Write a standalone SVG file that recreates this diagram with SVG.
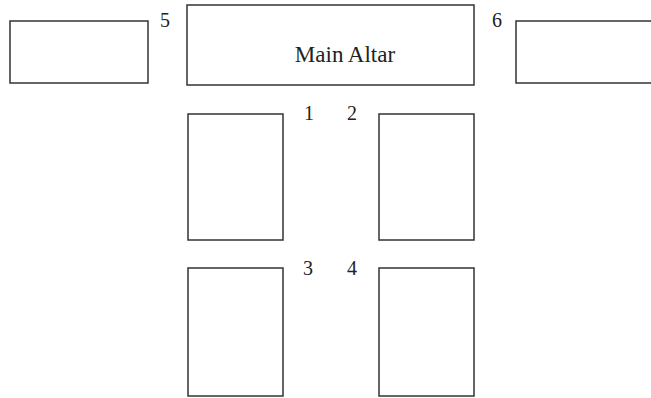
<svg xmlns="http://www.w3.org/2000/svg" width="651" height="398" viewBox="0 0 651 398">
<style>
.box{fill:#fff;stroke:#333;stroke-width:1.5}
.t{font-family:"Liberation Serif","Times New Roman",serif;fill:#222}
.n{font-size:20px}
.lbl{font-size:23px}
</style>
<rect width="651" height="398" fill="#fff"/>
<g id="seat5"><rect class="box" x="10" y="21" width="138" height="62"/><text class="t n" x="160" y="27">5</text></g>
<g id="altar"><rect class="box" x="187" y="5" width="287" height="80"/><text class="t lbl" x="345" y="62" text-anchor="middle">Main Altar</text></g>
<g id="seat6"><rect class="box" x="516" y="21" width="145" height="62"/><text class="t n" x="492" y="27">6</text></g>
<g id="seat1"><rect class="box" x="188" y="114" width="95" height="126"/><text class="t n" x="304" y="120">1</text></g>
<g id="seat2"><rect class="box" x="379" y="114" width="95" height="126"/><text class="t n" x="347" y="120">2</text></g>
<g id="seat3"><rect class="box" x="188" y="268" width="95" height="128"/><text class="t n" x="303" y="275">3</text></g>
<g id="seat4"><rect class="box" x="379" y="268" width="95" height="128"/><text class="t n" x="347" y="275">4</text></g>
<g id="connectors"></g>
</svg>
